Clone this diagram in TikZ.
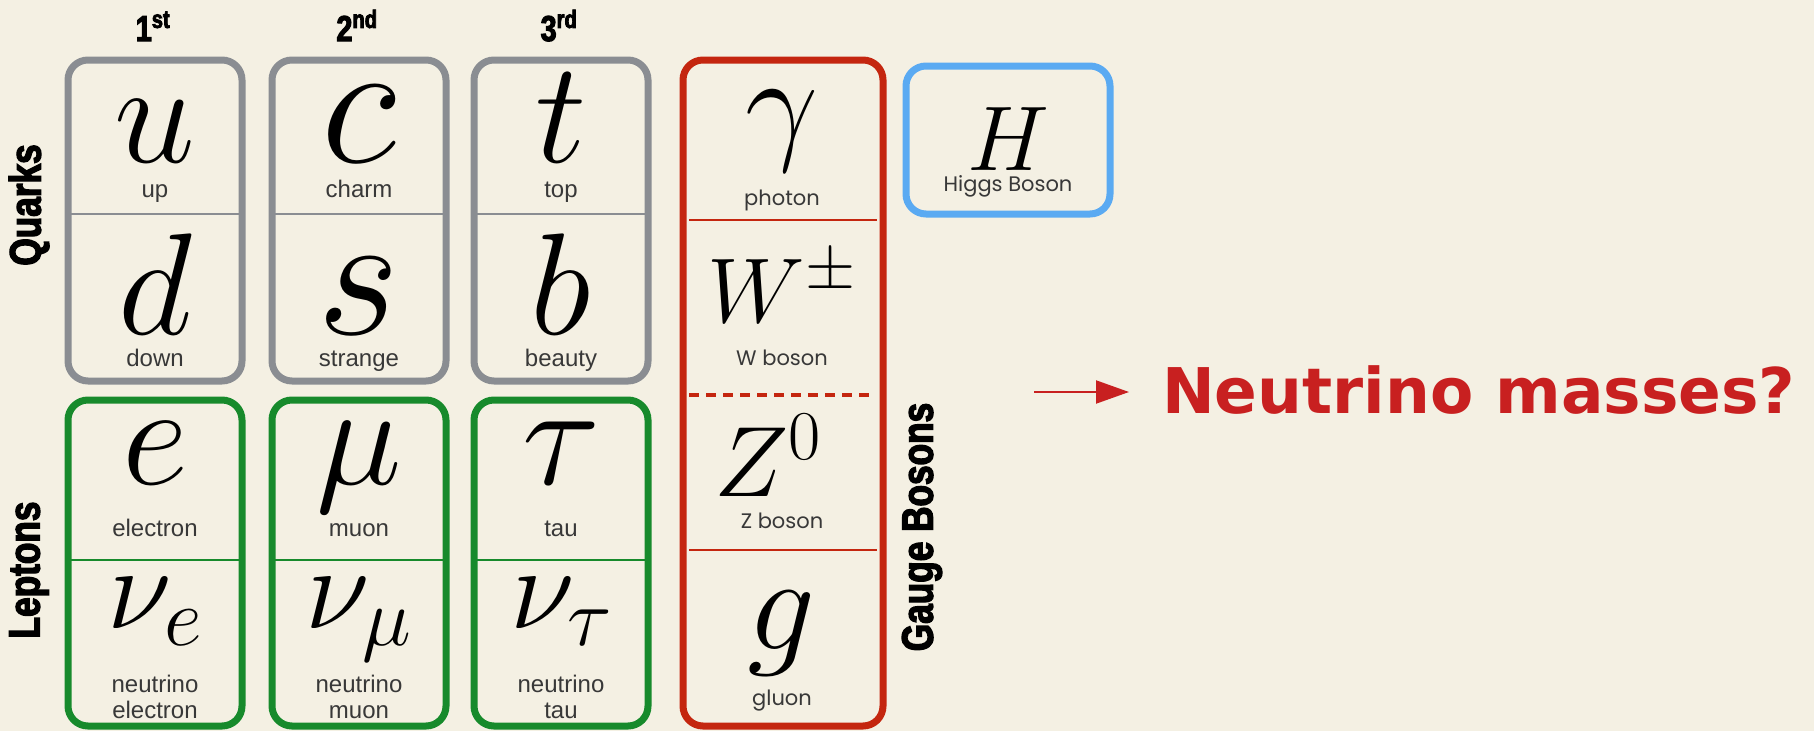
\RequirePackage{fix-cm}
\documentclass[tikz,border=0pt]{standalone}
\usepackage{fontspec}
\setmainfont{Liberation Sans}
\newfontfamily\geofont{Poppins}
\newfontfamily\heavyfont{Liberation Sans}[FakeStretch=0.8,FakeBold=3]
\newfontfamily\askfont{DejaVu Sans}
\usetikzlibrary{arrows.meta,positioning}
\definecolor{paper}{HTML}{F4F0E3}
\definecolor{quarkgray}{HTML}{8A8D92}
\definecolor{leptgreen}{HTML}{178A2C}
\definecolor{bosonred}{HTML}{C4260F}
\definecolor{higgsblue}{HTML}{5AAAF2}
\definecolor{askred}{HTML}{C82020}
\newcommand{\symsize}[1]{\fontsize{#1}{#1}\selectfont}
\tikzset{
  cellbox/.style={line width=7pt, rounded corners=20pt},
  sym/.style={anchor=base, inner sep=0pt, font=\symsize{145}},
  plabel/.style={anchor=base, inner sep=0pt, text=black!78, font=\fontsize{24}{27}\selectfont},
  glabel/.style={plabel, font=\geofont\fontsize{21}{24}\selectfont},
  heavylab/.style={inner sep=0pt, font=\heavyfont\bfseries\fontsize{44}{44}\selectfont},
  genlab/.style={anchor=base, inner sep=0pt, font=\heavyfont\bfseries\fontsize{36}{36}\selectfont},
  askarrow/.style={-{Triangle[length=33pt,width=23pt]}, askred, line width=2pt, shorten >=33pt}
}

\begin{document}
\begin{tikzpicture}[x=1pt, y=-1pt]
\fill[paper] (0,0) rectangle (1814,731);
\useasboundingbox (0,0) rectangle (1814,731);
% quarks
\foreach \cx/\i/\gn/\gs/\sa/\sb/\na/\nb/\sz in {155/1/1/st/u/d/up/down/145, 359/2/2/nd/c/s/charm/strange/178, 561/3/3/rd/t/b/top/beauty/145}{
  \draw[cellbox, quarkgray] (\cx-87,60) rectangle (\cx+87,381);
  \draw[quarkgray, line width=2pt] (\cx-87,214) -- (\cx+87,214);
  \node[genlab] (gen\i) at (\cx-2,41) {\gn\textsuperscript{\gs}};
  \node[sym, font=\symsize{\sz}] (qa\i) at (\cx,162) {$\sa$};
  \node[plabel] (qan\i) at (\cx,197) {\na};
  \node[sym, font=\symsize{\sz}] (qb\i) at (\cx,334) {$\sb$};
  \node[plabel] (qbn\i) at (\cx,366) {\nb};
}
% leptons
\foreach \cx/\i/\sa/\sb/\na/\nb in {155/1/e/\nu_e/electron/electron, 359/2/\mu/\nu_\mu/muon/muon, 561/3/\tau/\nu_\tau/tau/tau}{
  \draw[cellbox, leptgreen] (\cx-87,400) rectangle (\cx+87,726);
  \draw[leptgreen, line width=2pt] (\cx-87,560) -- (\cx+87,560);
  \node[sym] (la\i) at (\cx,484) {$\sa$};
  \node[plabel] (lan\i) at (\cx,536) {\na};
  \node[sym, font=\symsize{118}] (lb\i) at (\cx,628) {$\sb$};
  \node[plabel] (lbn\i) at (\cx,692) {neutrino};
  \node[plabel] (lbf\i) at (\cx,718) {\nb};
}
\node[heavylab, rotate=90] (quarks) at (29,205) {Quarks};
\node[heavylab, rotate=90] (leptons) at (29,570) {Leptons};
% gauge bosons
\draw[cellbox, bosonred] (683,60) rectangle (883,726);
\draw[bosonred, line width=2pt] (689,220) -- (877,220);
\draw[bosonred, line width=3.5pt, dash pattern=on 10pt off 7pt] (689,395) -- (871,395);
\draw[bosonred, line width=2pt] (689,550) -- (877,550);
\node[sym, font=\symsize{130}] (photon) at (782,146) {$\gamma$};
\node[glabel] (photonn) at (782,205) {photon};
\node[sym, font=\symsize{92}] (wbos) at (782,322) {$W^{\pm}$};
\node[glabel] (wbosn) at (782,365) {W boson};
\node[sym, font=\symsize{100}] (zbos) at (768,496) {$Z^0$};
\node[glabel] (zbosn) at (782,528) {Z boson};
\node[sym, font=\symsize{135}] (gluon) at (782,649) {$g$};
\node[glabel] (gluonn) at (782,705) {gluon};
\node[heavylab, rotate=90] (gauge) at (922,527) {Gauge Bosons};
% higgs
\draw[cellbox, higgsblue] (906,66) rectangle (1110,214);
\node[sym, font=\symsize{92}] (higgs) at (1008,170) {$H$};
\node[glabel] (higgsn) at (1008,191) {Higgs Boson};
% question
\coordinate (tail) at (1034,392);
\node[anchor=base west, inner sep=0pt, text=askred, font=\askfont\bfseries\fontsize{63}{63}\selectfont] (ask) at (1162,413) {Neutrino masses?};
\draw[askarrow] (tail) -- (tail -| ask.west);
\end{tikzpicture}
\end{document}
